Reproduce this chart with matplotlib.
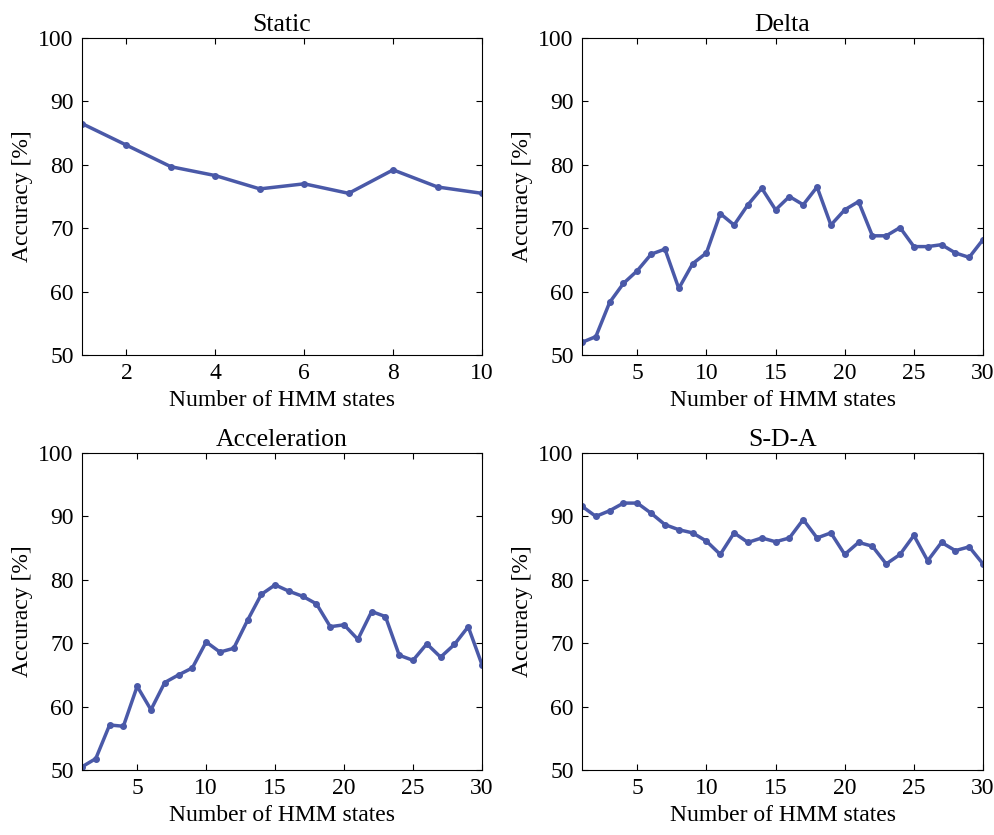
import matplotlib
matplotlib.use("Agg")
import matplotlib.pyplot as plt

plt.rcParams['font.family'] = ['Liberation Serif', 'DejaVu Serif']

static_x = list(range(1, 11))
static_y = [86.5, 83.1, 79.7, 78.3, 76.2, 77.0, 75.5, 79.2, 76.5, 75.5]

states30 = list(range(1, 31))
delta_y = [52.0, 52.9, 58.3, 61.3, 63.3, 65.9, 66.7, 60.5, 64.4, 66.1,
           72.3, 70.5, 73.7, 76.3, 72.9, 75.0, 73.7, 76.5, 70.5, 72.9,
           74.2, 68.8, 68.8, 70.1, 67.1, 67.1, 67.4, 66.1, 65.4, 68.2]
accel_y = [50.5, 51.8, 57.1, 56.9, 63.2, 59.5, 63.8, 65.0, 66.1, 70.2,
           68.6, 69.2, 73.6, 77.7, 79.2, 78.2, 77.4, 76.2, 72.6, 72.9,
           70.6, 75.0, 74.2, 68.1, 67.3, 69.9, 67.8, 69.8, 72.6, 66.6]
sda_y = [91.6, 90.0, 90.9, 92.1, 92.1, 90.5, 88.7, 87.9, 87.4, 86.1,
         84.0, 87.4, 85.9, 86.6, 86.0, 86.6, 89.5, 86.6, 87.4, 84.0,
         85.9, 85.3, 82.5, 84.0, 87.0, 83.0, 85.9, 84.6, 85.2, 82.5]

titles = ["Static", "Delta", "Acceleration", "S-D-A"]
xlabel = "Number of HMM states"
ylabel = "Accuracy [%]"
yticks = [50, 60, 70, 80, 90, 100]
static_xticks = [2, 4, 6, 8, 10]
xticks30 = [5, 10, 15, 20, 25, 30]

color = "#4a59a8"

fig = plt.figure(figsize=(9.95, 8.35), dpi=100)
W, H = 995, 835
boxes = [(82, 38, 482, 355), (582, 38, 983, 355),
         (82, 453, 482, 770), (582, 453, 983, 770)]
series = [(static_x, static_y, static_xticks, (1, 10)),
          (states30, delta_y, xticks30, (1, 30)),
          (states30, accel_y, xticks30, (1, 30)),
          (states30, sda_y, xticks30, (1, 30))]

for (l, t, r, b), (xs, ys, xt, xl), title in zip(boxes, series, titles):
    ax = fig.add_axes([l / W, 1 - b / H, (r - l) / W, (b - t) / H])
    ax.plot(xs, ys, color=color, lw=2.5, marker='o', ms=4)
    ax.set_xlim(*xl)
    ax.set_ylim(50, 100)
    ax.set_xticks(xt)
    ax.set_yticks(yticks)
    ax.tick_params(direction='in', top=True, right=True, labelsize=17,
                   length=4, width=0.8, pad=6)
    ax.set_title(title, fontsize=18.5, pad=5)
    ax.set_xlabel(xlabel, fontsize=17, labelpad=4)
    ax.set_ylabel(ylabel, fontsize=17, labelpad=4)
    for s in ax.spines.values():
        s.set_linewidth(0.8)

fig.savefig("out.png", dpi=100)
